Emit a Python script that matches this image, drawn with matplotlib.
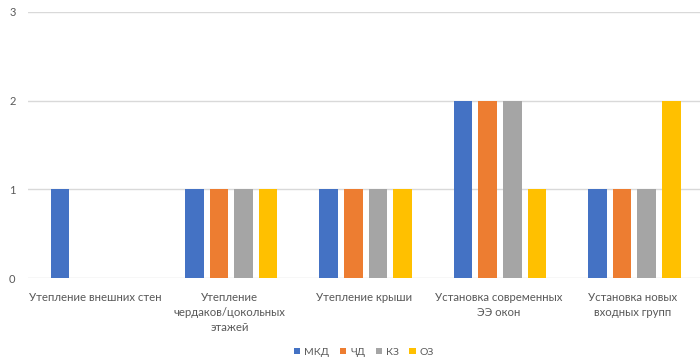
import matplotlib
matplotlib.use("Agg")
import matplotlib.pyplot as plt
import numpy as np

categories = [
    "Утепление внешних стен",
    "Утепление\nчердаков/цокольных\nэтажей",
    "Утепление крыши",
    "Установка современных\nЭЭ окон",
    "Установка новых\nвходных групп",
]
series_names = ["МКД", "ЧД", "КЗ", "ОЗ"]
mkd = [1, 1, 1, 2, 1]
chd = [0, 1, 1, 2, 1]
kz = [0, 1, 1, 2, 1]
oz = [0, 1, 1, 1, 2]
y_ticks = [0, 1, 2, 3]

colors = ["#4472C4", "#ED7D31", "#A5A5A5", "#FFC000"]
text_color = "#595959"

plt.rcParams["font.family"] = ["Lato", "DejaVu Sans"]

fig = plt.figure(figsize=(7.0, 3.62), dpi=100)
ax = fig.add_axes([0.04, 0.232, 0.96, 0.735])

x = np.arange(len(categories))
step = 0.183
width = 0.138
for i, (name, vals, c) in enumerate(zip(series_names, [mkd, chd, kz, oz], colors)):
    ax.bar(x + (i - 1.5) * step + 0.012, vals, width=width, color=c, label=name, zorder=3)

ax.set_xlim(-0.5, len(categories) - 0.5)
ax.set_ylim(0, 3)
ax.set_yticks(y_ticks)
ax.yaxis.grid(True, color="#D9D9D9", linewidth=1.0, zorder=0)
ax.set_axisbelow(True)
for s in ax.spines.values():
    s.set_visible(False)
ax.tick_params(axis="both", length=0, colors=text_color)
ax.tick_params(axis="y", pad=9, labelsize=8)
ax.set_xticks(x)
ax.set_xticklabels(categories, linespacing=1.45, fontsize=8.2)
ax.tick_params(axis="x", pad=10)

leg = fig.legend(
    loc="center", bbox_to_anchor=(0.52, 0.027), ncol=4, frameon=False,
    fontsize=7.5, handlelength=0.6, handleheight=0.6, handletextpad=0.4,
    columnspacing=1.0, labelcolor=text_color,
)

fig.savefig("out.png", dpi=100, facecolor="white")
